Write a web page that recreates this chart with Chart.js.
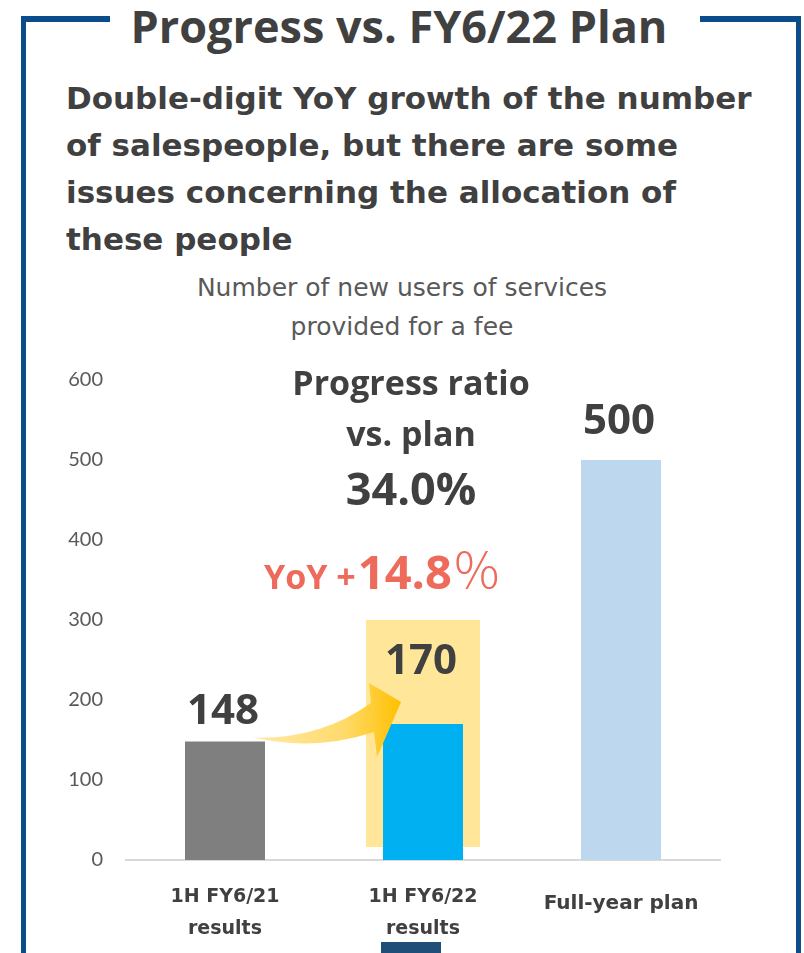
<!DOCTYPE html>
<html>
<head>
<meta charset="utf-8">
<script src="https://cdn.jsdelivr.net/npm/chart.js@4.4.1/dist/chart.umd.min.js"></script>
<style>
  body { margin: 0; width: 804px; height: 953px; position: relative; overflow: hidden; background: #fff;
         font-family: "Open Sans", Lato, sans-serif; color: #404040; }
  #frame { position: absolute; left: 21px; top: 16px; width: 770px; height: 980px;
           border: 5px solid #0b4d8a; border-top-width: 6px; border-bottom: none; }
  #heading { position: absolute; left: 110px; width: 578px; padding-right: 12px; top: -4px; text-align: center; background: #fff;
             font-weight: 700; font-size: 45px; line-height: 60px; }
  #lead { position: absolute; left: 66px; top: 75px; width: 735px; font-family: "DejaVu Sans", sans-serif;
          font-weight: 700; font-size: 31px; line-height: 47px; }
  #unit { position: absolute; left: 0; width: 804px; top: 268px; text-align: center; font-family: "DejaVu Sans", sans-serif;
          font-size: 25px; line-height: 39px; color: #595959; }
  #ratio { position: absolute; left: 261px; width: 300px; top: 357px; text-align: center; font-weight: 700;
           font-size: 34px; line-height: 51px; }
  #ratio .pct { font-size: 45px; line-height: 60px; margin-top: -1px; }
  #yoy { position: absolute; left: 264px; top: 541px; font-weight: 700; color: #ee6a5b; font-size: 34px; line-height: 52px; white-space: nowrap; }
  #yoy .num { font-size: 47px; margin-left: 2px; }
  #yoy .sign { font-family: "Noto Sans CJK JP", sans-serif; font-weight: 300; font-size: 50px; }
  #tab { position: absolute; left: 381px; top: 942px; width: 60px; height: 11px; background: #1f4e79; }
  canvas { position: absolute; left: 0; top: 0; }
</style>
</head>
<body>
<div id="frame"></div>
<div id="heading">Progress vs. FY6/22 Plan</div>
<div id="lead">Double-digit YoY growth of the number<br>of salespeople, but there are some<br>issues concerning the allocation of<br>these people</div>
<div id="unit">Number of new users of services<br>provided for a fee</div>
<canvas id="Chart" width="804" height="953"></canvas>
<div id="ratio">Progress ratio<br>vs. plan<div class="pct">34.0%</div></div>
<div id="yoy">YoY +<span class="num">14.8</span><span class="sign">％</span></div>
<div id="tab"></div>

<script>
const categories = [['1H FY6/21', 'results'], ['1H FY6/22', 'results'], 'Full-year plan'];
const users = [148, 170, 500];
const barColors = ['#7f7f7f', '#00b0f0', '#bdd7ee'];
const yTicks = [0, 100, 200, 300, 400, 500, 600];

// yellow band behind the current half, the arrow between the halves and the value labels
let extras = {
    id: 'extras',
    beforeDatasetsDraw(chart) {
        let ctx = chart.ctx;
        let y = chart.scales.y;
        let b1 = chart.getDatasetMeta(0).data[1];
        ctx.save();
        ctx.fillStyle = '#ffe699';
        ctx.fillRect(b1.x - 57, y.getPixelForValue(300), 114, y.getPixelForValue(0) - 13 - y.getPixelForValue(300));
        ctx.restore();
    },
    afterDatasetsDraw(chart) {
        let ctx = chart.ctx;
        let bars = chart.getDatasetMeta(0).data;
        let b0 = bars[0], b1 = bars[1];

        ctx.save();
        let grad = ctx.createLinearGradient(b0.x + 28, 0, b1.x - 22, 0);
        grad.addColorStop(0, '#ffe9a6');
        grad.addColorStop(0.6, '#ffdb6e');
        grad.addColorStop(1, '#ffc000');
        ctx.fillStyle = grad;
        ctx.beginPath();
        ctx.moveTo(b0.x + 28, b0.y - 4);
        ctx.quadraticCurveTo(b0.x + 95, b0.y - 2, b1.x - 52, b1.y - 21);
        ctx.lineTo(b1.x - 54, b1.y - 41);
        ctx.lineTo(b1.x - 22, b1.y - 22);
        ctx.lineTo(b1.x - 46, b1.y + 33);
        ctx.lineTo(b1.x - 49, b1.y + 8);
        ctx.quadraticCurveTo(b0.x + 90, b0.y + 10, b0.x + 28, b0.y - 4);
        ctx.closePath();
        ctx.fill();

        let lift = [30, 62, 38];
        ctx.fillStyle = '#404040';
        ctx.font = 'bold 42px "Open Sans", sans-serif';
        ctx.textAlign = 'center';
        ctx.textBaseline = 'middle';
        bars.forEach((bar, i) => {
            ctx.fillText(String(users[i]), bar.x - 2, bar.y - lift[i]);
        });
        ctx.restore();
    }
};

let graph = document.getElementById('Chart');

let chartdtl = {
    type: 'bar',
    data: {
        labels: categories,
        datasets: [{
            data: users,
            backgroundColor: barColors,
            barPercentage: 0.404,
            categoryPercentage: 1,
        }],
    },
    options: {
        responsive: false,
        animation: false,
        layout: { padding: { top: 380, left: 26, right: 84, bottom: 5 } },
        plugins: {
            legend: { display: false },
            tooltip: { enabled: false },
        },
        scales: {
            x: {
                grid: { display: false, drawTicks: false },
                border: { display: true, color: '#d9d9d9', width: 2 },
                ticks: {
                    color: '#404040',
                    // the one-line label gets a taller line so it sits a little above the middle
                    font: (c) => ({
                        family: 'DejaVu Sans', weight: 'bold',
                        size: c.index === 2 ? 20 : 19,
                        lineHeight: c.index === 2 ? 2.47 : 1.68,
                    }),
                    padding: 37,
                    crossAlign: 'center',
                    maxRotation: 0,
                    autoSkip: false,
                },
                afterFit(scale) { scale.height = 88; },
            },
            y: {
                min: 0,
                max: 600,
                grid: { display: false, drawTicks: false },
                border: { display: false },
                afterBuildTicks(scale) { scale.ticks = yTicks.map(v => ({ value: v })); },
                ticks: {
                    color: '#595959',
                    font: { family: 'Lato', size: 20 },
                    padding: 23,
                },
                afterFit(scale) { scale.width = 100; },
            },
        },
    },
    plugins: [extras],
};

let presentdata = new Chart(graph, chartdtl);
</script>
</body>
</html>
